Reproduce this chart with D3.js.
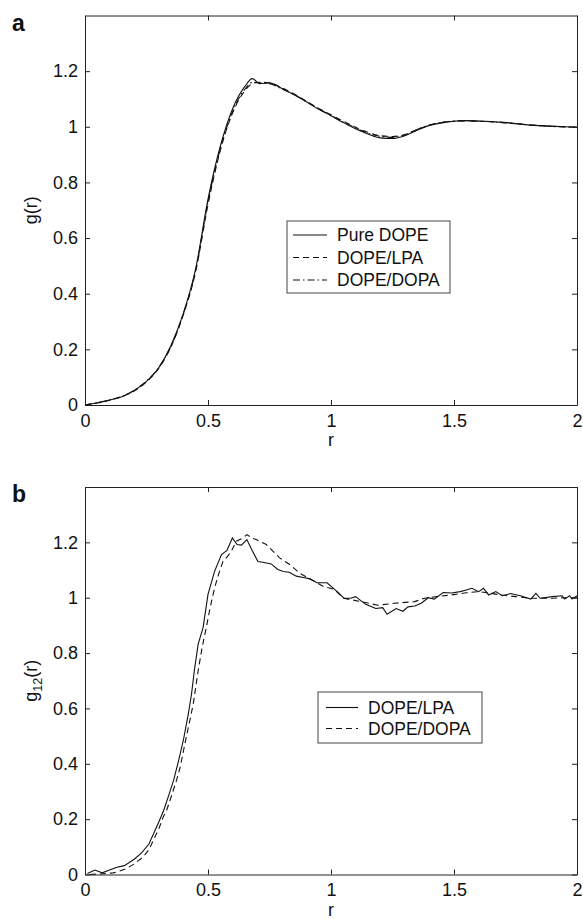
<!DOCTYPE html>
<html>
<head>
<meta charset="utf-8">
<script src="https://cdn.jsdelivr.net/npm/d3@7"></script>
<style>
  body { margin: 0; background: #fff; }
  text { font-family: "Liberation Sans", Arial, sans-serif; fill: #111; }
</style>
</head>
<body>
<script>
// ---- data ----
// panel a: radial distribution g(r), three systems on a shared r grid
const rA = [0, 0.05, 0.1, 0.15, 0.2, 0.25, 0.3, 0.35, 0.4, 0.45, 0.5, 0.55, 0.6, 0.65, 0.68, 0.71,
  0.75, 0.8, 0.85, 0.9, 0.95, 1.0, 1.05, 1.1, 1.15, 1.2, 1.25, 1.3, 1.35, 1.4, 1.45, 1.5,
  1.55, 1.6, 1.65, 1.7, 1.75, 1.8, 1.85, 1.9, 1.95, 2.0];
const gPureDope = [0, 0.008, 0.018, 0.03, 0.052, 0.085, 0.135, 0.215, 0.33, 0.49, 0.74, 0.93, 1.065, 1.145, 1.173, 1.155,
  1.158, 1.138, 1.115, 1.09, 1.063, 1.04, 1.015, 0.993, 0.974, 0.96, 0.958, 0.968, 0.988, 1.005, 1.014, 1.02,
  1.022, 1.021, 1.019, 1.016, 1.012, 1.007, 1.004, 1.002, 1.0, 0.998];
const gDopeLpa = [0, 0.007, 0.017, 0.03, 0.05, 0.083, 0.132, 0.21, 0.325, 0.48, 0.72, 0.915, 1.05, 1.13, 1.155, 1.16,
  1.158, 1.14, 1.118, 1.092, 1.066, 1.043, 1.02, 0.998, 0.98, 0.968, 0.965, 0.972, 0.99, 1.006, 1.015, 1.02,
  1.021, 1.02, 1.018, 1.015, 1.011, 1.007, 1.004, 1.002, 1.0, 0.999];
const gDopeDopa = [0, 0.008, 0.018, 0.031, 0.053, 0.086, 0.134, 0.212, 0.328, 0.485, 0.73, 0.92, 1.055, 1.135, 1.16, 1.158,
  1.155, 1.136, 1.116, 1.09, 1.064, 1.041, 1.017, 0.996, 0.977, 0.966, 0.962, 0.97, 0.99, 1.006, 1.016, 1.021,
  1.022, 1.02, 1.018, 1.015, 1.011, 1.007, 1.004, 1.001, 0.999, 0.998];

// panel b: g12(r), noisier, each series with its own r samples
const rB_lpa = [0.01, 0.04, 0.07, 0.1, 0.13, 0.16, 0.2, 0.23, 0.26, 0.28, 0.3, 0.32, 0.34, 0.36, 0.38, 0.4, 0.42, 0.433,
  0.445, 0.46, 0.48, 0.5, 0.527, 0.555, 0.577, 0.599, 0.618, 0.636, 0.658, 0.68, 0.703, 0.723, 0.757, 0.784,
  0.806, 0.83, 0.859, 0.888, 0.915, 0.943, 0.984, 1.025, 1.053, 1.08, 1.1, 1.141, 1.182, 1.21, 1.228, 1.265,
  1.292, 1.313, 1.34, 1.367, 1.395, 1.42, 1.456, 1.49, 1.525, 1.55, 1.573, 1.6, 1.62, 1.641, 1.67, 1.696,
  1.73, 1.77, 1.812, 1.833, 1.85, 1.9, 1.94, 1.95, 1.97, 1.98, 2.0];
const gB_lpa = [0.004, 0.016, 0.006, 0.016, 0.026, 0.032, 0.055, 0.078, 0.11, 0.15, 0.19, 0.232, 0.285, 0.34, 0.41, 0.486, 0.58, 0.652,
  0.74, 0.832, 0.892, 1.012, 1.096, 1.156, 1.171, 1.216, 1.192, 1.19, 1.21, 1.17, 1.131, 1.128, 1.122, 1.102,
  1.095, 1.092, 1.078, 1.073, 1.068, 1.054, 1.054, 1.022, 0.998, 0.998, 1.004, 0.976, 0.961, 0.964, 0.94, 0.961,
  0.951, 0.967, 0.97, 0.98, 1.0, 0.995, 1.019, 1.017, 1.022, 1.028, 1.034, 1.022, 1.034, 1.01, 1.022, 1.007,
  1.015, 1.007, 0.995, 1.016, 0.998, 1.004, 1.007, 0.995, 1.007, 0.995, 1.007];
const rB_dopa = [0.02, 0.06, 0.09, 0.115, 0.14, 0.169, 0.2, 0.237, 0.26, 0.278, 0.3, 0.318, 0.332, 0.35, 0.372, 0.387, 0.406,
  0.426, 0.44, 0.46, 0.476, 0.493, 0.51, 0.527, 0.545, 0.561, 0.58, 0.595, 0.615, 0.64, 0.658, 0.68, 0.696,
  0.737, 0.751, 0.791, 0.834, 0.87, 0.92, 0.97, 1.014, 1.05, 1.121, 1.19, 1.258, 1.34, 1.38, 1.43, 1.49, 1.55,
  1.6, 1.65, 1.69, 1.75, 1.81, 1.9, 1.95, 2.0];
const gB_dopa = [0.0, 0.002, 0.004, 0.006, 0.012, 0.022, 0.038, 0.064, 0.09, 0.124, 0.165, 0.208, 0.232, 0.28, 0.34, 0.388, 0.472,
  0.556, 0.616, 0.736, 0.82, 0.892, 0.97, 1.036, 1.09, 1.132, 1.15, 1.168, 1.204, 1.215, 1.228, 1.215, 1.21,
  1.192, 1.18, 1.144, 1.119, 1.09, 1.065, 1.04, 1.03, 0.998, 0.986, 0.973, 0.98, 0.986, 0.998, 1.004, 1.01, 1.018,
  1.022, 1.016, 1.01, 1.004, 0.998, 0.998, 1.0, 1.0];

const xTicks = [0, 0.5, 1, 1.5, 2];
const yTicks = [0, 0.2, 0.4, 0.6, 0.8, 1, 1.2];
const legendA = ["Pure DOPE", "DOPE/LPA", "DOPE/DOPA"];
const legendB = ["DOPE/LPA", "DOPE/DOPA"];

// ---- drawing ----
const svg = d3.select("body").append("svg")
  .attr("width", 583)
  .attr("height", 919);

const dashStyles = { solid: null, dashed: "6,4", dashdot: "7,3,1.5,3" };

function drawPanel(opt) {
  const x = d3.scaleLinear().domain([0, 2]).range([85, 577]);
  const y = d3.scaleLinear().domain([0, 1.4]).range([opt.bottom, opt.top]);

  // curves
  const line = d3.line()
    .x(d => x(d[0]))
    .y(d => y(d[1]))
    .curve(opt.smooth ? d3.curveMonotoneX : d3.curveLinear);

  opt.series.forEach(s => {
    svg.append("path")
      .datum(s.r.map((r, i) => [r, s.g[i]]))
      .attr("d", line)
      .attr("fill", "none")
      .attr("stroke", "#111")
      .attr("stroke-width", 1.1)
      .attr("stroke-dasharray", dashStyles[s.style]);
  });

  // matlab style box with inward ticks on all sides
  const fmt = d => String(d);
  svg.append("g")
    .attr("transform", `translate(0,${opt.bottom})`)
    .call(d3.axisBottom(x).tickValues(xTicks).tickFormat(fmt).tickSize(-5).tickSizeOuter(0).tickPadding(9));
  svg.append("g")
    .attr("transform", `translate(0,${opt.top})`)
    .call(d3.axisTop(x).tickValues(xTicks).tickFormat("").tickSize(-5).tickSizeOuter(0));
  svg.append("g")
    .attr("transform", "translate(85,0)")
    .call(d3.axisLeft(y).tickValues(yTicks).tickFormat(fmt).tickSize(-5).tickSizeOuter(0).tickPadding(7));
  svg.append("g")
    .attr("transform", "translate(577,0)")
    .call(d3.axisRight(y).tickValues(yTicks).tickFormat("").tickSize(-5).tickSizeOuter(0));

  svg.selectAll(".tick text").attr("font-size", 18).attr("font-family", "Liberation Sans, Arial, sans-serif");
  svg.selectAll(".domain, .tick line").attr("stroke", "#222");

  // x label
  svg.append("text")
    .attr("x", x(1))
    .attr("y", opt.bottom + 41)
    .attr("text-anchor", "middle")
    .attr("font-size", 18)
    .text("r");

  // y label
  const yl = svg.append("text")
    .attr("transform", `translate(37,${(opt.top + opt.bottom) / 2}) rotate(-90)`)
    .attr("text-anchor", "middle")
    .attr("font-size", 18);
  if (opt.sub) {
    yl.append("tspan").text("g");
    yl.append("tspan").attr("font-size", 12.5).attr("dy", 5).text(opt.sub);
    yl.append("tspan").attr("dy", -5).text("(r)");
  } else {
    yl.text("g(r)");
  }

  // panel letter
  svg.append("text")
    .attr("x", 12)
    .attr("y", opt.top + 15)
    .attr("font-size", 23)
    .attr("font-weight", "bold")
    .text(opt.letter);

  // legend
  const lg = opt.legend;
  svg.append("rect")
    .attr("x", lg.x).attr("y", lg.y)
    .attr("width", lg.w).attr("height", lg.h)
    .attr("fill", "#fff")
    .attr("stroke", "#444")
    .attr("stroke-width", 1);
  lg.labels.forEach((lab, i) => {
    const cy = lg.y + lg.first + i * lg.step;
    svg.append("line")
      .attr("x1", lg.x + lg.lx0).attr("x2", lg.x + lg.lx1)
      .attr("y1", cy).attr("y2", cy)
      .attr("stroke", "#111")
      .attr("stroke-width", 1.1)
      .attr("stroke-dasharray", dashStyles[opt.series[i].style]);
    svg.append("text")
      .attr("x", lg.x + lg.tx)
      .attr("y", cy)
      .attr("dy", "0.36em")
      .attr("font-size", 17.5)
      .text(lab);
  });
}

drawPanel({
  top: 15.5, bottom: 405, letter: "a", smooth: true,
  series: [
    { r: rA, g: gPureDope, style: "solid" },
    { r: rA, g: gDopeLpa, style: "dashed" },
    { r: rA, g: gDopeDopa, style: "dashdot" }
  ],
  legend: { x: 287, y: 221, w: 163, h: 72, first: 14, step: 22.5, lx0: 6, lx1: 40, tx: 50, labels: legendA }
});

drawPanel({
  top: 487, bottom: 874.5, letter: "b", sub: "12", smooth: false,
  series: [
    { r: rB_lpa, g: gB_lpa, style: "solid" },
    { r: rB_dopa, g: gB_dopa, style: "dashed" }
  ],
  legend: { x: 318, y: 692, w: 164, h: 51, first: 15.5, step: 21, lx0: 8, lx1: 40, tx: 50, labels: legendB }
});
</script>
</body>
</html>
